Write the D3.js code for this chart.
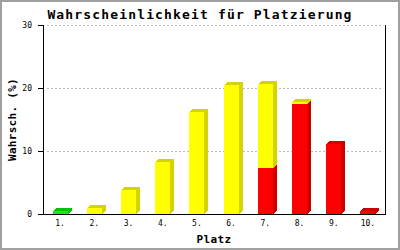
<!DOCTYPE html>
<html>
<head>
<meta charset="utf-8">
<script src="https://cdn.jsdelivr.net/npm/d3@7"></script>
<style>
  body { margin: 0; background: #fff; }
  svg { display: block; }
</style>
</head>
<body>
<div class="g-graphic"></div>
<script>
(function(d3) {
    "use strict";

    // chart values
    var places = ["1.", "2.", "3.", "4.", "5.", "6.", "7.", "8.", "9.", "10."];
    var greenValues = [0.4, 0, 0, 0, 0, 0, 0, 0, 0, 0];
    var redValues = [0, 0, 0, 0, 0, 0, 7.3, 17.5, 11.1, 0.5];
    var yellowValues = [0, 1.0, 3.8, 8.3, 16.2, 20.5, 13.3, 0.3, 0, 0];
    var yTicks = [0, 10, 20, 30];

    var width = 400, height = 250,
    margin = {top: 25, right: 15, bottom: 36, left: 43},
    depthX = 4, depthY = 3, frontWidth = 15;

    // stacking order bottom -> top: green, red, yellow
    var series = [
        {name: "green", values: greenValues, front: "#22e022", side: "#00c000"},
        {name: "red", values: redValues, front: "#ff0000", side: "#cc0000"},
        {name: "yellow", values: yellowValues, front: "#ffff00", side: "#d4d400"}
    ];

    var svg = d3.select(".g-graphic").append("svg")
        .attr("width", width)
        .attr("height", height);

    svg.append("rect")
        .attr("x", 1).attr("y", 1)
        .attr("width", width - 2).attr("height", height - 2)
        .attr("fill", "#fff")
        .attr("stroke", "#a0a0a0")
        .attr("stroke-width", 2);

    var x = d3.scaleBand()
        .domain(places)
        .range([margin.left, width - margin.right]);

    var y = d3.scaleLinear()
        .domain([0, 30])
        .range([height - margin.bottom, margin.top]);

    var mono = "'DejaVu Sans Mono', 'Liberation Mono', monospace";

    // title
    svg.append("text")
        .attr("x", 200).attr("y", 18.5)
        .attr("text-anchor", "middle")
        .style("font-family", mono)
        .style("font-weight", "bold")
        .style("font-size", "13px")
        .style("letter-spacing", "1.15px")
        .text("Wahrscheinlichkeit für Platzierung");

    // grid
    svg.append("g").selectAll("line")
        .data(yTicks.filter(function(d) { return d > 0; }))
        .join("line")
        .attr("x1", margin.left + 4)
        .attr("x2", width - margin.right - 2)
        .attr("y1", function(d) { return Math.round(y(d)) + 0.5; })
        .attr("y2", function(d) { return Math.round(y(d)) + 0.5; })
        .attr("stroke", "#bbb")
        .attr("stroke-dasharray", "2,2")
        .attr("shape-rendering", "crispEdges");

    // bars
    var stacked = places.map(function() { return 0; });
    var barG = svg.append("g").attr("shape-rendering", "crispEdges");
    series.forEach(function(s) {
        s.values.forEach(function(v, i) {
            if (v <= 0) return;
            var x0 = Math.round(x(places[i]) + x.bandwidth() / 2 - frontWidth / 2),
                x1 = x0 + frontWidth,
                yb = Math.round(y(stacked[i])),
                yt = Math.round(y(stacked[i] + v));
            stacked[i] += v;
            barG.append("polygon")
                .attr("points", [
                    [x0, yt], [x0 + depthX, yt - depthY], [x1 + depthX, yt - depthY],
                    [x1 + depthX, yb - depthY], [x1, yb], [x0, yb]
                ].map(function(p) { return p.join(","); }).join(" "))
                .attr("fill", s.side);
            barG.append("rect")
                .attr("x", x0).attr("y", yt)
                .attr("width", frontWidth).attr("height", yb - yt)
                .attr("fill", s.front);
        });
    });

    // axes frame
    var axisG = svg.append("g")
        .attr("stroke", "#000")
        .attr("shape-rendering", "crispEdges");
    axisG.append("line")
        .attr("x1", margin.left + 0.5).attr("x2", margin.left + 0.5)
        .attr("y1", y(30)).attr("y2", y(0) + 1);
    axisG.append("line")
        .attr("x1", width - margin.right + 0.5).attr("x2", width - margin.right + 0.5)
        .attr("y1", y(30)).attr("y2", y(0) + 1);
    axisG.append("line")
        .attr("x1", margin.left).attr("x2", width - margin.right + 1)
        .attr("y1", y(0) + 0.5).attr("y2", y(0) + 0.5);
    axisG.selectAll(".tick")
        .data(yTicks)
        .join("line")
        .attr("x1", margin.left - 5).attr("x2", margin.left)
        .attr("y1", function(d) { return Math.round(y(d)) + 0.5; })
        .attr("y2", function(d) { return Math.round(y(d)) + 0.5; });

    // tick labels
    svg.append("g").selectAll("text")
        .data(yTicks)
        .join("text")
        .attr("x", 32)
        .attr("y", function(d) { return y(d) + 3; })
        .attr("text-anchor", "end")
        .style("font-family", mono)
        .style("font-size", "8px")
        .text(function(d) { return d; });

    svg.append("g").selectAll("text")
        .data(places)
        .join("text")
        .attr("x", function(d) { return x(d) + x.bandwidth() / 2; })
        .attr("y", 226)
        .attr("text-anchor", "middle")
        .style("font-family", mono)
        .style("font-size", "8px")
        .text(function(d) { return d; });

    // axis titles
    svg.append("text")
        .attr("x", 214).attr("y", 243)
        .attr("text-anchor", "middle")
        .style("font-family", mono)
        .style("font-weight", "bold")
        .style("font-size", "11px")
        .style("letter-spacing", "0.4px")
        .text("Platz");

    svg.append("text")
        .attr("transform", "translate(16," + (margin.top + (y(0) - margin.top) / 2) + ") rotate(-90)")
        .attr("text-anchor", "middle")
        .style("font-family", mono)
        .style("font-weight", "bold")
        .style("font-size", "11px")
        .style("letter-spacing", "0.3px")
        .text("Wahrsch. (%)");

})(d3);
</script>
</body>
</html>
